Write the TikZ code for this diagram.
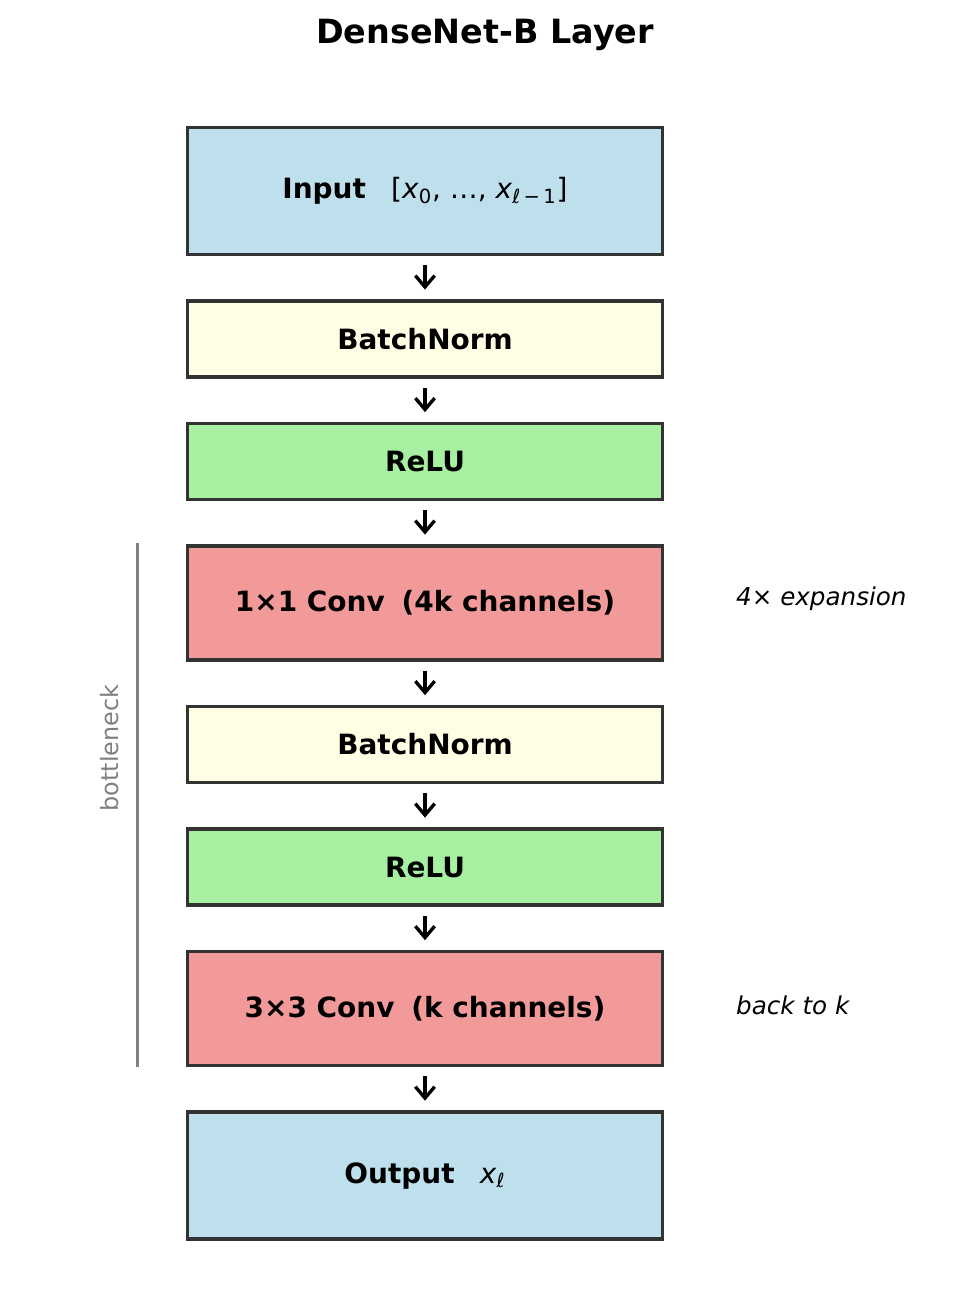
\documentclass[tikz,border=0pt]{standalone}
\usepackage{fontspec}
\setmainfont{DejaVu Sans}
\usetikzlibrary{positioning, arrows.meta}

\definecolor{inblue}{RGB}{190,224,236}
\definecolor{bnyellow}{RGB}{255,254,228}
\definecolor{relugreen}{RGB}{168,240,161}
\definecolor{convred}{RGB}{242,153,153}
\definecolor{edgegray}{RGB}{51,51,51}
\definecolor{sidegray}{RGB}{128,128,128}

\tikzset{
  layerbox/.style={draw=edgegray, rectangle, line width=2pt, minimum width=9.5cm,
                   font=\fontsize{15.9}{18}\selectfont\bfseries},
  flow/.style={-{Straight Barb[length=6.5pt, width=11pt]}, line width=1.9pt,
               shorten >=5.5pt, shorten <=5pt},
  sidenote/.style={font=\fontsize{14}{16}\selectfont\itshape, anchor=west},
}

\begin{document}
\begin{tikzpicture}

    % Fix the page size to the reference proportions
    \useasboundingbox (0,0) rectangle (19.38,-26.28);

    % Title
    \node[font=\fontsize{19}{22}\selectfont\bfseries] (title) at (9.7,-0.7) {DenseNet-B Layer};

    % The stack of layers, top to bottom
    \node[layerbox, fill=inblue, minimum height=2.54cm] (input) at (8.5,-3.82)
        {Input\hspace{0.9em}{\mdseries[\textit{x}\textsubscript{0}, …, \textit{x}\textsubscript{\textit{ℓ}\,−\,1}]}};
    \node[layerbox, fill=bnyellow, minimum height=1.52cm, below=0.86cm of input] (bn1) {BatchNorm};
    \node[layerbox, fill=relugreen, minimum height=1.52cm, below=0.86cm of bn1] (relu1) {ReLU};
    \node[layerbox, fill=convred, minimum height=2.28cm, below=0.86cm of relu1] (conv1) {1×1 Conv\hspace{0.6em}(4k channels)};
    \node[layerbox, fill=bnyellow, minimum height=1.52cm, below=0.86cm of conv1] (bn2) {BatchNorm};
    \node[layerbox, fill=relugreen, minimum height=1.52cm, below=0.86cm of bn2] (relu2) {ReLU};
    \node[layerbox, fill=convred, minimum height=2.28cm, below=0.86cm of relu2] (conv3) {3×3 Conv\hspace{0.6em}(k channels)};
    \node[layerbox, fill=inblue, minimum height=2.54cm, below=0.86cm of conv3] (output)
        {Output\hspace{0.9em}{\mdseries\textit{x}\textsubscript{\textit{ℓ}}}};

    % Arrows between the layers
    \draw[flow] (input) -- (bn1);
    \draw[flow] (bn1) -- (relu1);
    \draw[flow] (relu1) -- (conv1);
    \draw[flow] (conv1) -- (bn2);
    \draw[flow] (bn2) -- (relu2);
    \draw[flow] (relu2) -- (conv3);
    \draw[flow] (conv3) -- (output);

    % Bottleneck bar on the left
    \draw[sidegray, line width=1.8pt]
        ([xshift=-0.96cm, yshift=0.02cm]conv1.north west) -- ([xshift=-0.96cm]conv3.south west);
    \node[sidegray, rotate=90, font=\fontsize{13.6}{16}\selectfont] (neck) at (2.2,-14.96) {bottleneck};

    % Notes on the right
    \node[sidenote] (expand) at (14.6,-11.98) {4× expansion};
    \node[sidenote] (back) at (14.6,-20.1) {back to k};

\end{tikzpicture}
\end{document}
